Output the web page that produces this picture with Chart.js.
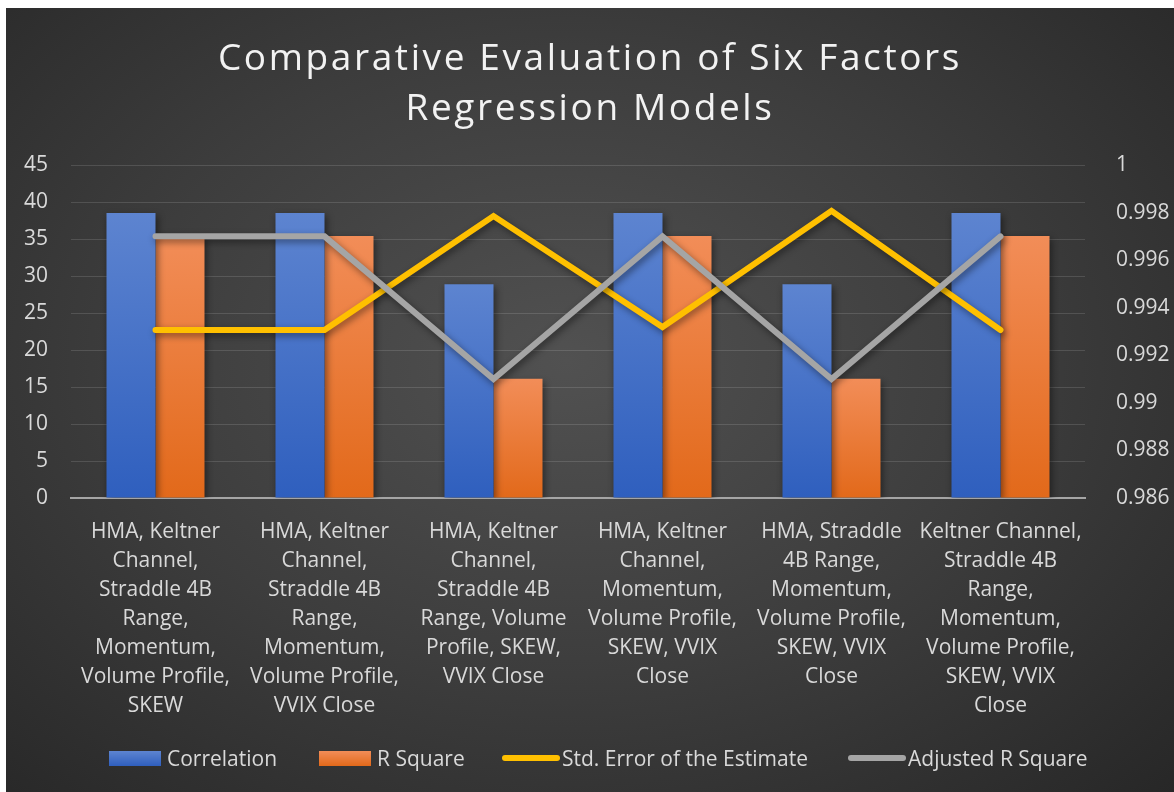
<!DOCTYPE html>
<html lang="en">
<head>
<meta charset="utf-8">
<title>Comparative Evaluation of Six Factors Regression Models</title>
<style>
  html, body { margin: 0; padding: 0; background: #fff; }
  #frame {
    position: absolute; left: 6px; top: 8px; width: 1168px; height: 784px; overflow: hidden;
    background: radial-gradient(ellipse 75% 80% at 48% 45%, #515151 0%, #3d3d3d 50%, #262626 100%);
    font-family: "Open Sans", sans-serif;
  }
  #plot { position: absolute; left: 0; top: 0; width: 1168px; height: 784px; }
  #title {
    position: absolute; left: 0; top: 23px; width: 1168px; text-align: center;
    color: #f2f2f2; font-size: 37px; line-height: 50px; letter-spacing: 2.6px;
  }
  .leg { position: absolute; top: 737px; height: 26px; display: flex; align-items: center; color: #d9d9d9; font-size: 21px; }
  .sw-box { width: 52px; height: 15px; margin-right: 6px; }
  .sw-line { width: 58px; height: 6px; border-radius: 3px; margin-right: 2px; }
</style>
</head>
<body>
<div id="frame">
  <div id="plot"><canvas id="chart"></canvas></div>
  <div id="title">Comparative Evaluation of Six Factors<br>Regression Models</div>
  <div class="leg" style="left:103px"><span class="sw-box" style="background:linear-gradient(#5d84d0,#2f5fbe)"></span>Correlation</div>
  <div class="leg" style="left:313px"><span class="sw-box" style="background:linear-gradient(#f28d58,#e2691a)"></span>R Square</div>
  <div class="leg" style="left:496px"><span class="sw-line" style="background:#ffc000"></span>Std. Error of the Estimate</div>
  <div class="leg" style="left:842px"><span class="sw-line" style="background:#a5a5a5"></span>Adjusted R Square</div>
</div>
<script src="https://cdn.jsdelivr.net/npm/chart.js"></script>
<script>
// model labels, already wrapped the way the original shows them
const models = [
  ['HMA, Keltner', 'Channel,', 'Straddle 4B', 'Range,', 'Momentum,', 'Volume Profile,', 'SKEW'],
  ['HMA, Keltner', 'Channel,', 'Straddle 4B', 'Range,', 'Momentum,', 'Volume Profile,', 'VVIX Close'],
  ['HMA, Keltner', 'Channel,', 'Straddle 4B', 'Range, Volume', 'Profile, SKEW,', 'VVIX Close'],
  ['HMA, Keltner', 'Channel,', 'Momentum,', 'Volume Profile,', 'SKEW, VVIX', 'Close'],
  ['HMA, Straddle', '4B Range,', 'Momentum,', 'Volume Profile,', 'SKEW, VVIX', 'Close'],
  ['Keltner Channel,', 'Straddle 4B', 'Range,', 'Momentum,', 'Volume Profile,', 'SKEW, VVIX', 'Close']
];
const correlation = [38.5, 38.5, 28.9, 38.5, 28.9, 38.5];
const rSquare = [35.4, 35.4, 16.1, 35.4, 16.1, 35.4];
const stdError = [22.7, 22.7, 38.1, 23.1, 38.8, 22.7];
const adjRSquare = [0.997, 0.997, 0.991, 0.997, 0.991, 0.997];

// each bar gets its own light-to-dark fill, like the office style
function barFill(top, bottom) {
  return ctx => {
    const chart = ctx.chart, area = chart.chartArea;
    if (!area || ctx.type !== 'data') return bottom;
    const yTop = chart.scales.y.getPixelForValue(ctx.raw);
    const g = chart.ctx.createLinearGradient(0, yTop, 0, area.bottom);
    g.addColorStop(0, top);
    g.addColorStop(1, bottom);
    return g;
  };
}

const softShadow = {
  id: 'softShadow',
  beforeDatasetDraw(chart) {
    const c = chart.ctx;
    c.save();
    c.shadowColor = 'rgba(0,0,0,0.45)';
    c.shadowBlur = 7;
    c.shadowOffsetX = 2;
    c.shadowOffsetY = 3;
  },
  afterDatasetDraw(chart) { chart.ctx.restore(); }
};

const tickFont = { family: 'Open Sans', size: 21 };

new Chart(document.getElementById('chart'), {
  type: 'bar',
  data: {
    labels: models,
    datasets: [
      { label: 'Correlation', data: correlation, yAxisID: 'y', order: 3,
        backgroundColor: barFill('#5d84d0', '#2f5fbe'), categoryPercentage: 0.58, barPercentage: 1 },
      { label: 'R Square', data: rSquare, yAxisID: 'y', order: 4,
        backgroundColor: barFill('#f28d58', '#e2691a'), categoryPercentage: 0.58, barPercentage: 1 },
      { type: 'line', label: 'Std. Error of the Estimate', data: stdError, yAxisID: 'y', order: 2,
        borderColor: '#ffc000', borderWidth: 6, borderCapStyle: 'round', borderJoinStyle: 'miter',
        pointRadius: 0, fill: false, tension: 0 },
      { type: 'line', label: 'Adjusted R Square', data: adjRSquare, yAxisID: 'y1', order: 1,
        borderColor: '#a5a5a5', borderWidth: 6, borderCapStyle: 'round', borderJoinStyle: 'miter',
        pointRadius: 0, fill: false, tension: 0 }
    ]
  },
  options: {
    responsive: true,
    maintainAspectRatio: false,
    animation: false,
    layout: { padding: { top: 157, left: 0, right: 0, bottom: 0 } },
    plugins: { legend: { display: false }, title: { display: false }, tooltip: { enabled: false } },
    scales: {
      x: {
        afterFit: s => { s.height = 294; },
        grid: { display: false },
        border: { display: true, color: '#a5a5a5', width: 2 },
        ticks: { color: '#d9d9d9', font: { family: 'Open Sans', size: 21, lineHeight: 1.38 },
                 padding: 12, autoSkip: false, maxRotation: 0, minRotation: 0 }
      },
      y: {
        position: 'left', min: 0, max: 45,
        afterFit: s => { s.width = 65; },
        border: { display: false },
        grid: { drawTicks: false, lineWidth: 1,
                color: c => c.tick && c.tick.value === 0 ? 'rgba(0,0,0,0)' : 'rgba(255,255,255,0.13)' },
        ticks: { stepSize: 5, color: '#d9d9d9', font: tickFont, padding: 23 }
      },
      y1: {
        position: 'right', min: 0.986, max: 1,
        afterFit: s => { s.width = 89; },
        border: { display: false },
        grid: { display: false },
        ticks: { stepSize: 0.002, color: '#d9d9d9', font: tickFont, padding: 23,
                 callback: v => String(+v.toFixed(3)) }
      }
    }
  },
  plugins: [softShadow]
});
</script>
</body>
</html>
